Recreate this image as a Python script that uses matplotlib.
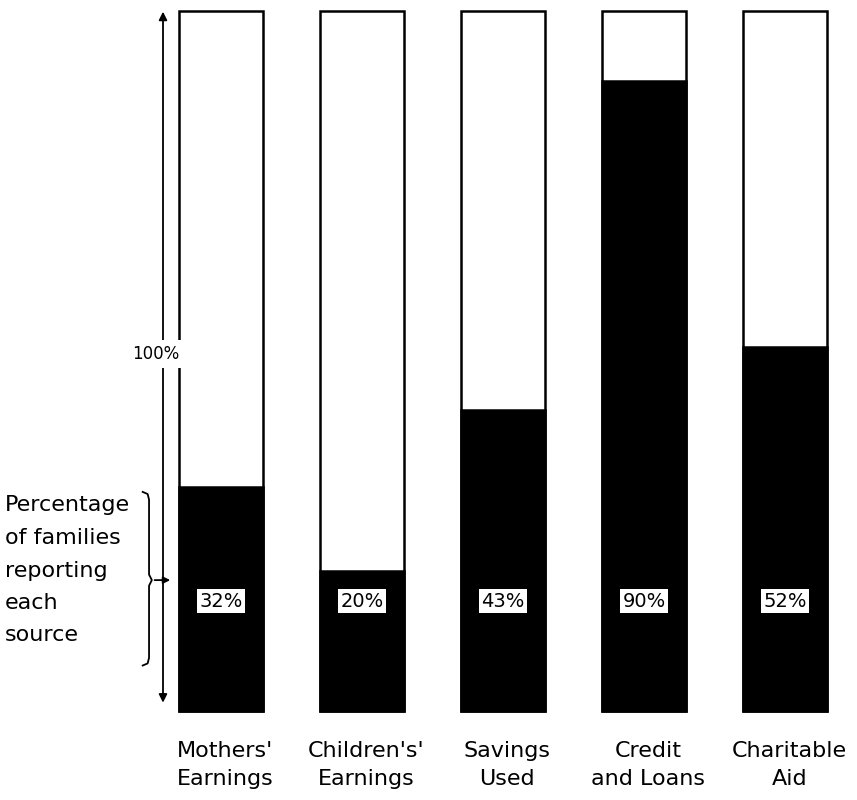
import matplotlib.pyplot as plt

# Fontes de renda das familias
categorias = ["Mothers'\nEarnings", "Children's'\nEarnings", "Savings\nUsed",
              "Credit\nand Loans", "Charitable\nAid"]
percentuais = [32, 20, 43, 90, 52]
rotulos = ['32%', '20%', '43%', '90%', '52%']

fig = plt.figure(figsize=(8.57, 8), dpi=100)
ax = fig.add_axes([0, 0, 1, 1])
ax.set_xlim(-1.567, 4.511)
ax.set_ylim(-12.71, 101.57)
ax.axis('off')

xs = list(range(len(categorias)))

# Barra cheia (100%) em branco e parte preta com o percentual
ax.bar(xs, [100] * len(xs), width=0.6, color='white', edgecolor='black', linewidth=1.8)
ax.bar(xs, percentuais, width=0.6, color='black', edgecolor='black', linewidth=1.8)

for x, r in zip(xs, rotulos):
    ax.text(x, 15.7, r, ha='center', va='center', fontsize=14, color='black',
            bbox=dict(boxstyle='square,pad=0.12', facecolor='white', edgecolor='none'))

for x, c in zip(xs, categorias):
    ax.text(x + 0.03, -7.7, c, ha='center', va='center', fontsize=16,
            multialignment='center', linespacing=1.5)

# Seta vertical do 100%
ax.annotate('', xy=(-0.411, 100.3), xytext=(-0.411, 0.8),
            arrowprops=dict(arrowstyle='<|-|>', color='black', lw=1.3, mutation_scale=12))
ax.text(-0.46, 51, '100%', ha='center', va='center', fontsize=12,
        bbox=dict(boxstyle='square,pad=0.3', facecolor='white', edgecolor='none'))

# Chave com seta apontando para o rotulo
ax.plot([-0.555, -0.52, -0.51, -0.51, -0.49, -0.51, -0.51, -0.52, -0.555],
        [31.3, 31.0, 30.2, 19.5, 18.7, 17.9, 7.6, 6.8, 6.5], color='black', lw=1.3)
ax.annotate('', xy=(-0.34, 18.7), xytext=(-0.49, 18.7),
            arrowprops=dict(arrowstyle='-|>', color='black', lw=1.3, mutation_scale=10))

linhas = ['Percentage', 'of families', 'reporting', 'each', 'source']
ys = [29.4, 24.7, 20.0, 15.4, 10.9]
for t, y in zip(linhas, ys):
    ax.text(-1.532, y, t, ha='left', va='center', fontsize=16)

fig.savefig('out.png', dpi=100, facecolor='white')
